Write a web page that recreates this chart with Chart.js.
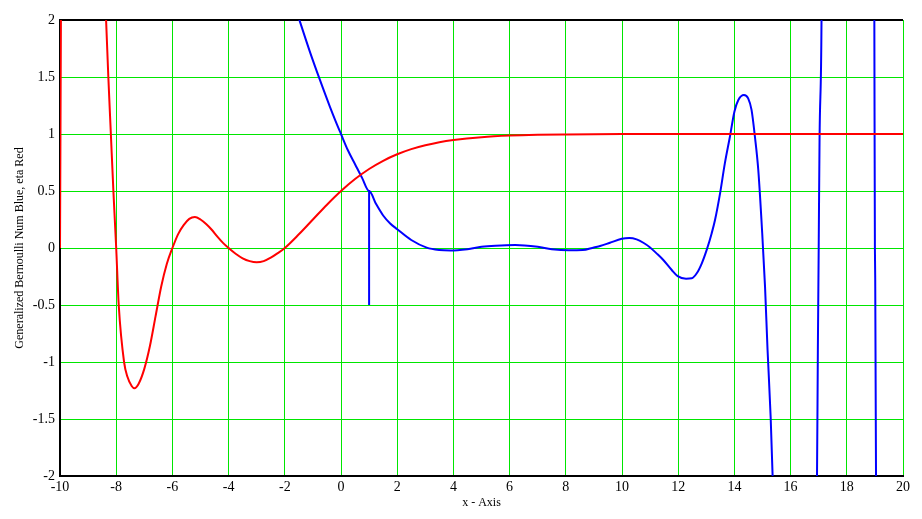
<!DOCTYPE html>
<html>
<head>
<meta charset="utf-8">
<script src="https://cdn.jsdelivr.net/npm/chart.js@4.4.1/dist/chart.umd.min.js"></script>
<style>
  html, body { margin: 0; padding: 0; background: #fff; }
  #wrap { width: 922px; height: 519px; }
</style>
</head>
<body>
<div id="wrap"><canvas id="myChart"></canvas></div>
<script>
// eta (red)
const etaX = [-10, -9.9, -9.5, -9, -8.6, -8.36, -8.28, -8.19, -8.1, -8, -7.91, -7.72, -7.6, -7.45, -7.35, -7.2, -7,
  -6.8, -6.6, -6.4, -6.2, -6, -5.8, -5.6, -5.4, -5.2, -5, -4.8, -4.6, -4.4, -4.2, -4, -3.75, -3.5, -3.25, -3,
  -2.75, -2.5, -2.25, -2, -1.5, -1, -0.5, 0, 0.5, 1, 1.5, 2, 2.5, 3, 3.5, 4, 5, 6, 7, 8, 10, 12, 20];
const etaY = [0, 5.5, 9, 7.75, 3.6, 2, 1.5, 1, 0.5, 0, -0.5, -1, -1.13, -1.21, -1.23, -1.19, -1.06,
  -0.86, -0.6, -0.34, -0.14, 0, 0.12, 0.2, 0.255, 0.272, 0.25, 0.21, 0.16, 0.1, 0.045, 0, -0.05, -0.09, -0.115, -0.125,
  -0.115, -0.085, -0.045, 0, 0.12, 0.25, 0.38, 0.5, 0.605, 0.693, 0.765, 0.822, 0.867, 0.901, 0.928, 0.947, 0.972, 0.986, 0.993, 0.996, 0.999, 1, 1];

// generalized Bernoulli number (blue)
const bernX = [-2, -1.48, -1.1, -0.75, -0.39, -0.2, 0, 0.25, 0.5, 0.75, 1, 1, 1, 1.25, 1.5, 1.75, 2, 2.5, 3.05, 3.5, 3.9, 4.5, 5, 5.5,
  6.2, 7, 7.5, 8.1, 8.6, 9, 9.22, 9.57, 9.99, 10.26, 10.52, 10.76, 11, 11.23, 11.47, 11.77, 11.98, 12.28, 12.48, 12.66,
  12.84, 13.02, 13.19, 13.31, 13.49, 13.66, 13.84, 14, 14.14, 14.34, 14.49, 14.61, 14.73, 14.85, 14.99, 15.09, 15.18,
  15.29, 15.36, 15.5, 16, 16.5, 16.8, 16.94, 16.97, 17, 17.03, 17.1, 17.5, 18, 18.5, 18.98, 19, 19.04, 19.5, 20];
const bernY = [2.4, 2, 1.716, 1.474, 1.236, 1.118, 1, 0.855, 0.735, 0.615, 0.5, -0.5, 0.5, 0.385, 0.285, 0.215, 0.165, 0.07, 0.003, -0.018, -0.022, -0.01, 0.01, 0.02,
  0.026, 0.01, -0.01, -0.02, -0.018, 0.005, 0.017, 0.046, 0.081, 0.088, 0.076, 0.046, 0.005, -0.047, -0.105, -0.193, -0.246, -0.269, -0.266, -0.222,
  -0.134, -0.012, 0.128, 0.245, 0.479, 0.742, 0.976, 1.196, 1.298, 1.342, 1.313, 1.211, 0.976, 0.684, 0.129, -0.339, -0.895,
  -1.48, -2, -3.2, -7.1, -6.5, -3.5, -2, -0.9, 0, 0.95, 2, 25, 55, 45, 2, 0, -2, -250, -529];

const xTicks = { min: -10, max: 20, step: 2 };
const yTicks = { min: -2, max: 2, step: 0.5 };

const serif = 'Liberation Serif';

var ctx = document.getElementById('myChart').getContext('2d');
var myChart = new Chart(ctx, {
    type: 'line',
    data: {
        datasets: [{
            label: 'eta',
            data: etaX.map((x, i) => ({ x: x, y: etaY[i] })),
            borderColor: '#ff0000',
            borderWidth: 2,
            pointRadius: 0,
            cubicInterpolationMode: 'monotone'
        },
        {
            label: 'Generalized Bernoulli Num',
            data: bernX.map((x, i) => ({ x: x, y: bernY[i] })),
            borderColor: '#0000ff',
            borderWidth: 2,
            pointRadius: 0,
            cubicInterpolationMode: 'monotone'
        }]
    },
    options: {
        responsive: true,
        maintainAspectRatio: false,
        animation: false,
        layout: { padding: { top: 20, right: 19, left: 0, bottom: 0 } },
        plugins: { legend: { display: false }, tooltip: { enabled: false } },
        scales: {
            x: {
                type: 'linear',
                min: xTicks.min,
                max: xTicks.max,
                afterFit: (scale) => { scale.height = 43; },
                ticks: {
                    stepSize: xTicks.step,
                    padding: 3,
                    color: '#000',
                    font: { family: serif, size: 14 },
                    callback: (v) => String(v)
                },
                grid: { color: '#00e600', lineWidth: 1, drawTicks: false },
                border: { color: '#000', width: 2 },
                title: {
                    display: true,
                    text: 'x - Axis',
                    color: '#000',
                    font: { family: serif, size: 12 },
                    padding: { top: 0, bottom: 9 }
                }
            },
            y: {
                min: yTicks.min,
                max: yTicks.max,
                afterFit: (scale) => { scale.width = 60; },
                ticks: {
                    stepSize: yTicks.step,
                    padding: 5,
                    color: '#000',
                    font: { family: serif, size: 14 },
                    callback: (v) => String(v)
                },
                grid: {
                    color: (c) => (c.tick && c.tick.value === 2 ? '#000' : '#00e600'),
                    lineWidth: (c) => (c.tick && c.tick.value === 2 ? 2 : 1),
                    drawTicks: false
                },
                border: { color: '#000', width: 2 },
                title: {
                    display: true,
                    text: 'Generalized Bernoulli Num Blue, eta Red',
                    color: '#000',
                    font: { family: serif, size: 12 },
                    padding: { top: 13, bottom: 0 }
                }
            }
        }
    }
});
</script>
</body>
</html>
